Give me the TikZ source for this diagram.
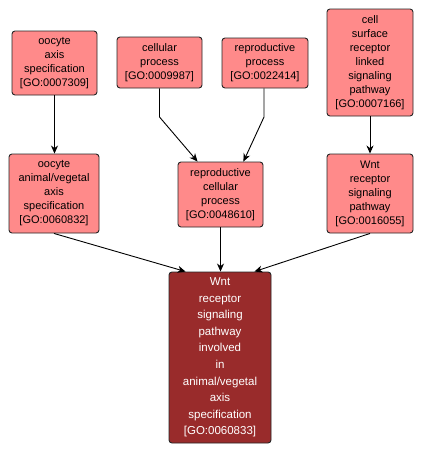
\documentclass[tikz,border=0pt]{standalone}
\usepackage{fontspec}
\setmainfont{Liberation Sans}
\usetikzlibrary{arrows.meta}
\definecolor{golight}{RGB}{255,138,138}
\definecolor{godark}{RGB}{153,43,43}
\tikzset{
  gobox/.style={draw=black!85, line width=0.9pt, fill=golight, rounded corners=3pt, inner sep=0pt, align=center, font=\fontsize{11}{14}\selectfont},
  gomain/.style={gobox, fill=godark, text=white, font=\fontsize{11.5}{16.6}\selectfont},
  arr/.style={draw=black, line width=0.9pt, -{Stealth[length=8pt,width=7pt,inset=2.5pt]}}
}
\begin{document}
\begin{tikzpicture}[x=1pt,y=-1pt]
\useasboundingbox[fill=white] (0,0) rectangle (422,455);
\node[gobox, minimum width=85pt, minimum height=64pt] (n1) at (54.5,63) {oocyte\\axis\\specification\\{[GO:0007309]}};
\node[gobox, minimum width=85pt, minimum height=51pt] (n2) at (159.5,62.5) {cellular\\process\\{[GO:0009987]}};
\node[gobox, minimum width=86pt, minimum height=50pt] (n3) at (265,63) {reproductive\\process\\{[GO:0022414]}};
\node[gobox, minimum width=86pt, minimum height=107pt] (n4) at (370,62.5) {cell\\surface\\receptor\\linked\\signaling\\pathway\\{[GO:0007166]}};
\node[gobox, minimum width=90pt, minimum height=79pt] (n5) at (54,193.5) {oocyte\\animal/vegetal\\axis\\specification\\{[GO:0060832]}};
\node[gobox, minimum width=85pt, minimum height=65pt] (n6) at (220.5,194.5) {reproductive\\cellular\\process\\{[GO:0048610]}};
\node[gobox, minimum width=86pt, minimum height=79pt] (n7) at (370,193.5) {Wnt\\receptor\\signaling\\pathway\\{[GO:0016055]}};
\node[gomain, minimum width=102pt, minimum height=171pt] (n8) at (220,357.5) {Wnt\\receptor\\signaling\\pathway\\involved\\in\\animal/vegetal\\axis\\specification\\{[GO:0060833]}};
\coordinate (b1) at (159.5,117);
\coordinate (b2) at (264,117);
\draw[arr] (n1.south) -- (n1.south |- n5.north);
\draw[arr] (n4.south) -- (n4.south |- n7.north);
\draw[arr] (n2.south) -- (b1) -- ([xshift=20pt]n6.north west);
\draw[arr] (b2 |- n3.south) -- (b2) -- ([xshift=-20pt]n6.north east);
\draw[arr] (n5.south) -- ([xshift=17pt]n8.north west);
\draw[arr] (n6.south) -- (n6.south |- n8.north);
\draw[arr] (n7.south) -- ([xshift=-17pt]n8.north east);
\end{tikzpicture}
\end{document}
